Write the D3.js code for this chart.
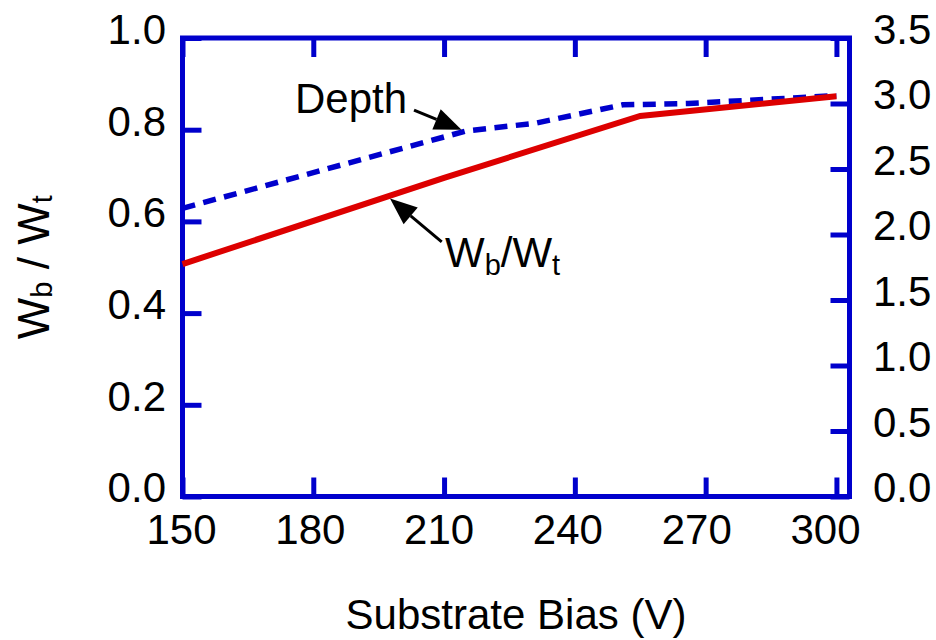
<!DOCTYPE html>
<html lang="en">
<head>
<meta charset="UTF-8">
<title>Substrate Bias</title>
<script src="https://cdn.jsdelivr.net/npm/d3@7"></script>
<style>
  body { margin: 0; background: #fff; }
  svg text { font-family: "Liberation Sans", Arial, sans-serif; fill: #000; }
  .axis text { font-size: 42px; }
  .axis line { stroke: #0000cc; stroke-width: 5px; }
  .axis path { display: none; }
</style>
</head>
<body>
<script>
// data
var biasRatio = [150, 210, 255, 300];
var ratio     = [0.507, 0.695, 0.830, 0.873];   // Wb/Wt, left axis
var biasDepth = [150, 215, 231, 251, 266, 300];
var depth     = [2.20, 2.79, 2.85, 2.99, 3.00, 3.06]; // right axis

var xTicks = [150, 180, 210, 240, 270, 300];
var yLeftTicks = [0, 0.2, 0.4, 0.6, 0.8, 1.0];
var yRightTicks = [0, 0.5, 1, 1.5, 2, 2.5, 3, 3.5];

var width = 936, height = 640;
var frame = {left: 182.5, right: 849.5, top: 38, bottom: 496.5};
var blue = "#0000cc", red = "#dd0000";

var svg = d3.select("body").append("svg")
  .attr("width", width)
  .attr("height", height);

var x = d3.scaleLinear().domain([150, 303]).range([frame.left, frame.right]);
var yL = d3.scaleLinear().domain([0, 1]).range([frame.bottom, frame.top]);
var yR = d3.scaleLinear().domain([0, 3.5]).range([frame.bottom, frame.top]);
// the original's bottom labels sit on a slightly tighter spacing than the ticks
var xLabel = d3.scaleLinear().domain([150, 300]).range([181, 825]);

// axes, ticks pointing inward
var bottom = svg.append("g").attr("class", "axis")
  .attr("transform", "translate(0," + frame.bottom + ")")
  .call(d3.axisBottom(x).tickValues(xTicks).tickSize(-19).tickPadding(17.5).tickFormat(d3.format("d")));
bottom.selectAll(".tick text")
  .attr("x", function(d) { return xLabel(d) - x(d); });

svg.append("g").attr("class", "axis")
  .attr("transform", "translate(0," + frame.top + ")")
  .call(d3.axisTop(x).tickValues(xTicks).tickSize(-19).tickFormat(""));

svg.append("g").attr("class", "axis")
  .attr("transform", "translate(" + frame.left + ",0)")
  .call(d3.axisLeft(yL).tickValues(yLeftTicks).tickSize(-19).tickPadding(16.5).tickFormat(d3.format(".1f")))
  .selectAll("text").attr("dy", "0.13em");

svg.append("g").attr("class", "axis")
  .attr("transform", "translate(" + frame.right + ",0)")
  .call(d3.axisRight(yR).tickValues(yRightTicks).tickSize(-19).tickPadding(23.5).tickFormat(d3.format(".1f")))
  .selectAll("text").attr("dy", "0.13em");

// frame
svg.append("rect")
  .attr("x", frame.left).attr("y", frame.top)
  .attr("width", frame.right - frame.left)
  .attr("height", frame.bottom - frame.top)
  .attr("fill", "none")
  .attr("stroke", blue)
  .attr("stroke-width", 5);

// lines
var lineL = d3.line().x(function(d) { return x(d[0]); }).y(function(d) { return yL(d[1]); });
var lineR = d3.line().x(function(d) { return x(d[0]); }).y(function(d) { return yR(d[1]); });

svg.append("path")
  .datum(d3.zip(biasDepth, depth))
  .attr("d", lineR)
  .attr("fill", "none")
  .attr("stroke", blue)
  .attr("stroke-width", 5.5)
  .attr("stroke-dasharray", "13,8.5");

svg.append("path")
  .datum(d3.zip(biasRatio, ratio))
  .attr("d", lineL)
  .attr("fill", "none")
  .attr("stroke", red)
  .attr("stroke-width", 6);

// arrows
function arrow(tx, ty, fx, fy) {
  var ang = Math.atan2(ty - fy, tx - fx);
  var len = 27, hw = 11;
  var bx = tx - len * Math.cos(ang), by = ty - len * Math.sin(ang);
  svg.append("line")
    .attr("x1", fx).attr("y1", fy).attr("x2", bx).attr("y2", by)
    .attr("stroke", "#000").attr("stroke-width", 3);
  var px = -Math.sin(ang) * hw, py = Math.cos(ang) * hw;
  svg.append("path")
    .attr("d", "M" + tx + "," + ty + "L" + (bx + px) + "," + (by + py) + "L" + (bx - px) + "," + (by - py) + "Z")
    .attr("fill", "#000");
}

// Depth annotation
var dTipX = x(214), dTipY = yR(2.80);
arrow(dTipX, dTipY, dTipX - 47.5, dTipY - 19.5);
svg.append("text")
  .attr("x", 295).attr("y", 113)
  .style("font-size", "42px")
  .text("Depth");

// Wb/Wt annotation
var wTipX = x(197.6), wTipY = yL(0.650);
arrow(wTipX, wTipY, wTipX + 51.7, wTipY + 43.4);
var wl = svg.append("text")
  .attr("x", 445).attr("y", 267)
  .style("font-size", "42px");
wl.append("tspan").text("W");
wl.append("tspan").attr("dy", 8).style("font-size", "29px").text("b");
wl.append("tspan").attr("dy", -8).text("/W");
wl.append("tspan").attr("dy", 8).style("font-size", "29px").text("t");

// axis titles
svg.append("text")
  .attr("x", (frame.left + frame.right) / 2)
  .attr("y", 629)
  .attr("text-anchor", "middle")
  .style("font-size", "42px")
  .text("Substrate Bias (V)");

var yt = svg.append("text")
  .attr("transform", "translate(49," + ((frame.top + frame.bottom) / 2) + ") rotate(-90)")
  .attr("text-anchor", "middle")
  .style("font-size", "44px");
yt.append("tspan").text("W");
yt.append("tspan").attr("dy", 3).style("font-size", "29px").text("b");
yt.append("tspan").attr("dy", -3).text(" / W");
yt.append("tspan").attr("dy", 3).style("font-size", "29px").text("t");
</script>
</body>
</html>
